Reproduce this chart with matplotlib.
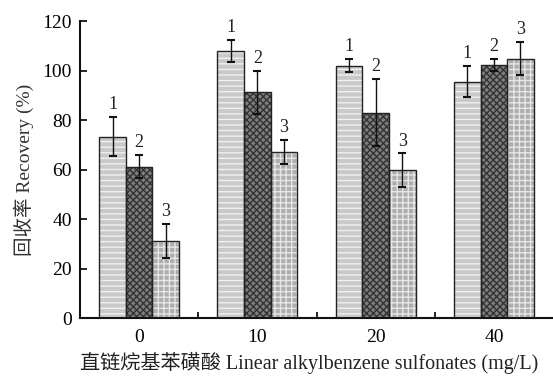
import numpy as np
import matplotlib.pyplot as plt
from matplotlib.ticker import FixedLocator

plt.rcParams['font.family'] = ['Liberation Serif', 'Noto Sans CJK SC']

groups = ['0', '10', '20', '40']
rec1 = [73.3, 107.9, 101.9, 95.5]
err1 = [8.0, 4.6, 2.7, 6.4]
rec2 = [61.1, 91.3, 83.0, 102.3]
err2 = [4.7, 8.7, 13.5, 2.4]
rec3 = [31.1, 67.2, 59.8, 104.8]
err3 = [7.0, 4.9, 6.7, 6.7]
series_names = ['1', '2', '3']

fig = plt.figure(figsize=(5.53, 3.78), dpi=100)
ax = fig.add_axes([0.1447, 0.1587, 0.8553, 0.7857])

x = np.arange(len(groups))
w = 0.225
styles = [('#c9c9c9', '#f0f0f0', '---'),
          ('#7e7e7e', '#333333', 'xxxxx'),
          ('#adadad', '#e6e6e6', '+++')]

for k, (vals, errs) in enumerate([(rec1, err1), (rec2, err2), (rec3, err3)]):
    pos = x + (k - 1) * w
    fc, hc, hatch = styles[k]
    ax.bar(pos, vals, w, color=fc, edgecolor=hc, hatch=hatch, linewidth=0, zorder=2)
    ax.bar(pos, vals, w, fill=False, edgecolor='#222222', linewidth=1.0, zorder=3)
    ax.errorbar(pos, vals, yerr=errs, fmt='none', ecolor='#111111', elinewidth=1.0,
                capsize=3, capthick=1.5, zorder=4)
    for p, v, e in zip(pos, vals, errs):
        ax.text(p, v + e + 1.5, series_names[k], ha='center', va='bottom', fontsize=13, color='#222222')

ax.set_xlim(-0.5, 3.5)
ax.set_ylim(0, 120)
ax.set_xticks(x)
ax.set_xticklabels(groups)
ax.xaxis.set_minor_locator(FixedLocator([0.5, 1.5, 2.5]))
ax.set_yticks(np.arange(0, 121, 20))
ax.tick_params(axis='x', which='major', length=0, labelsize=14, pad=8)
ax.tick_params(axis='x', which='minor', direction='in', length=4, width=1.2)
ax.tick_params(axis='y', direction='in', length=5, width=1.2, labelsize=14, pad=6)
for s in ['top', 'right']:
    ax.spines[s].set_visible(False)
for s in ['left', 'bottom']:
    ax.spines[s].set_linewidth(1.5)
    ax.spines[s].set_color('#111111')

ax.set_ylabel('回收率 Recovery (%)', fontsize=14, labelpad=6, color='#333333')
ax.set_xlabel('直链烷基苯磺酸 Linear alkylbenzene sulfonates (mg/L)', fontsize=14.5,
              color='#222222')
ax.xaxis.set_label_coords(0.485, -0.115)

fig.savefig('out.png', dpi=100)
